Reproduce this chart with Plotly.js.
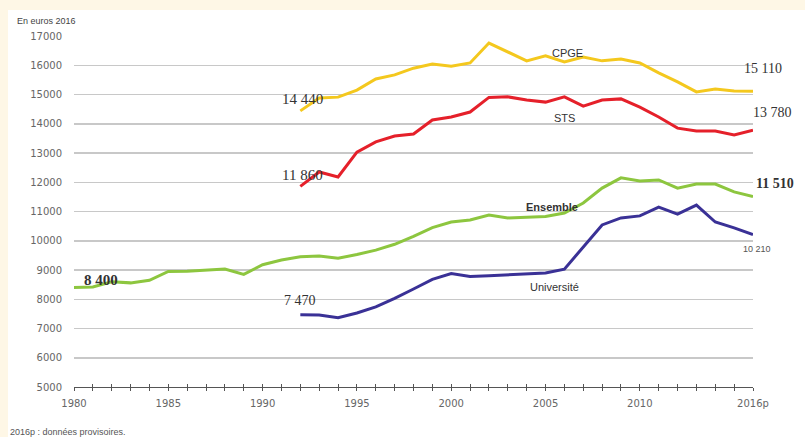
<!DOCTYPE html>
<html>
<head>
<meta charset="utf-8">
<script src="https://cdn.plot.ly/plotly-3.0.1.min.js"></script>
<style>html,body{margin:0;padding:0;background:#FEF7E6;}#chart{width:805px;height:437px;}</style>
</head>
<body>
<div id="chart"></div>
<script>
// ---- data ----
const yearsAll = [1980,1981,1982,1983,1984,1985,1986,1987,1988,1989,1990,1991,1992,1993,1994,1995,1996,1997,1998,1999,2000,2001,2002,2003,2004,2005,2006,2007,2008,2009,2010,2011,2012,2013,2014,2015,2016];
const years92 = [1992,1993,1994,1995,1996,1997,1998,1999,2000,2001,2002,2003,2004,2005,2006,2007,2008,2009,2010,2011,2012,2013,2014,2015,2016];
const ensemble = [8400,8420,8600,8560,8650,8950,8960,9000,9030,8850,9180,9340,9450,9480,9400,9530,9680,9880,10150,10450,10640,10710,10880,10780,10800,10830,10950,11290,11800,12150,12040,12080,11800,11940,11940,11670,11510];
const universite = [7470,7460,7370,7530,7740,8030,8350,8680,8880,8780,8800,8830,8860,8900,9030,9790,10540,10780,10850,11150,10910,11220,10640,10440,10210];
const sts = [11860,12350,12180,13030,13380,13580,13650,14130,14230,14400,14900,14920,14810,14740,14920,14600,14810,14850,14570,14230,13850,13750,13750,13620,13780];
const cpge = [14440,14880,14910,15150,15530,15670,15900,16040,15970,16080,16760,16450,16150,16320,16110,16280,16150,16210,16080,15740,15430,15090,15190,15120,15110];
const labelYears = [1980,1985,1990,1995,2000,2005,2010,2016];
const labelTexts = ['1980','1985','1990','1995','2000','2005','2010','2016p'];
const yTicks = [5000,6000,7000,8000,9000,10000,11000,12000,13000,14000,15000,16000,17000];
const yTickTexts = ['5000','6000','7000','8000','9000','10000','11000','12000','13000','14000','15000','16000','17000'];

const tickText = yearsAll.map(y => { const i = labelYears.indexOf(y); return i >= 0 ? labelTexts[i] : ''; });

const lw = 3;
const traces = [
  {x: yearsAll, y: ensemble, mode: 'lines', line: {color: '#8DC63F', width: lw}, name: 'Ensemble'},
  {x: years92, y: universite, mode: 'lines', line: {color: '#3A3196', width: lw}, name: 'Université'},
  {x: years92, y: sts, mode: 'lines', line: {color: '#E5202A', width: lw}, name: 'STS'},
  {x: years92, y: cpge, mode: 'lines', line: {color: '#F4C81E', width: lw}, name: 'CPGE'},
  {x: [1980, 2016], y: [5000, 5000], mode: 'lines', line: {width: 0}, xaxis: 'x2', hoverinfo: 'skip', showlegend: false}
];

const serif = 'Liberation Serif, Times New Roman, serif';
const sans = 'Liberation Sans, Arial, sans-serif';
const dark = '#333333';
function ann(x, y, text, xs, ys, font) {
  return {x: x, y: y, xref: 'x', yref: 'y', text: text, showarrow: false, xshift: xs, yshift: ys, font: font};
}
const last = a => a[a.length - 1];
const annotations = [
  ann(1992, cpge[0], '14 440', 2, 12, {family: serif, size: 15, color: dark}),
  ann(1992, sts[0], '11 860', 2, 11, {family: serif, size: 15, color: dark}),
  ann(1980, ensemble[0], '<b>8 400</b>', 27, 8, {family: serif, size: 15, color: dark}),
  ann(1992, universite[0], '7 470', 0, 14, {family: serif, size: 14, color: dark}),
  ann(2016, last(cpge), '15 110', 10, 23, {family: serif, size: 14, color: dark}),
  ann(2016, last(sts), '13 780', 19, 18, {family: serif, size: 14, color: dark}),
  ann(2016, last(ensemble), '<b>11 510</b>', 22, 13, {family: serif, size: 14, color: dark}),
  ann(2016, last(universite), '10 210', 4, -14, {family: sans, size: 9, color: '#555'}),
  {x: 2006.15, y: 16420, xref: 'x', yref: 'y', text: 'CPGE', showarrow: false, font: {family: sans, size: 11, color: dark}},
  {x: 2006.03, y: 14197, xref: 'x', yref: 'y', text: 'STS', showarrow: false, font: {family: sans, size: 11, color: dark}},
  {x: 2005.35, y: 11154, xref: 'x', yref: 'y', text: '<b>Ensemble</b>', showarrow: false, font: {family: sans, size: 11, color: dark}},
  {x: 2005.45, y: 8419, xref: 'x', yref: 'y', text: 'Université', showarrow: false, font: {family: sans, size: 11, color: dark}},
  {x: 15/805, y: 437-21, xref: 'paper', yref: 'paper', text: 'En euros 2016', showarrow: false, xanchor: 'left', yanchor: 'middle', font: {family: sans, size: 9, color: '#444'}},
  {x: 8/805, y: 437-432, xref: 'paper', yref: 'paper', text: '2016p : données provisoires.', showarrow: false, xanchor: 'left', yanchor: 'middle', font: {family: sans, size: 9, color: '#555'}}
];
const L = 74, R = 52, T = 36, B = 50, W = 805, H = 437;
const pw = W - L - R, ph = H - T - B;
annotations.forEach(a => {
  if (a.xref === 'paper') {
    a.x = (a.x * W - L) / pw;
    a.y = (a.y - B) / ph;
  }
});

const layout = {
  width: W, height: H,
  margin: {l: L, r: R, t: T, b: B, pad: 0},
  paper_bgcolor: '#FEF7E6',
  plot_bgcolor: 'rgba(0,0,0,0)',
  showlegend: false,
  xaxis: {
    range: [1980, 2016], tickvals: yearsAll, ticktext: tickText,
    ticks: 'outside', ticklen: 3, tickcolor: '#555', tickwidth: 1,
    ticklabelstandoff: 4,
    showline: true, linecolor: '#555', linewidth: 1,
    showgrid: false, zeroline: false,
    tickfont: {family: 'DejaVu Sans, sans-serif', size: 10, color: '#666'}
  },
  xaxis2: {
    range: [1980, 2016], overlaying: 'x', anchor: 'y', side: 'bottom',
    tickvals: yearsAll, ticks: 'inside', ticklen: 3, tickcolor: '#555', tickwidth: 1,
    showticklabels: false, showgrid: false, zeroline: false, showline: false
  },
  yaxis: {
    range: [5000, 17000], tickvals: yTicks, ticktext: yTickTexts,
    ticks: 'outside', ticklen: 9, tickcolor: 'rgba(0,0,0,0)',
    showgrid: true, gridcolor: '#C8C8C8', gridwidth: 1.5,
    zeroline: false, showline: false,
    tickfont: {family: 'DejaVu Sans, sans-serif', size: 10, color: '#666'}
  },
  shapes: [{
    type: 'rect', xref: 'paper', yref: 'paper', layer: 'below',
    x0: (8 - L) / pw, x1: (W - L) / pw + 0.01, y0: -B / ph - 0.01, y1: (H - 10 - B) / ph,
    fillcolor: '#FFFFFF', line: {width: 0}
  }],
  annotations: annotations
};

Plotly.newPlot('chart', traces, layout, {displayModeBar: false, staticPlot: true});
</script>
</body>
</html>
